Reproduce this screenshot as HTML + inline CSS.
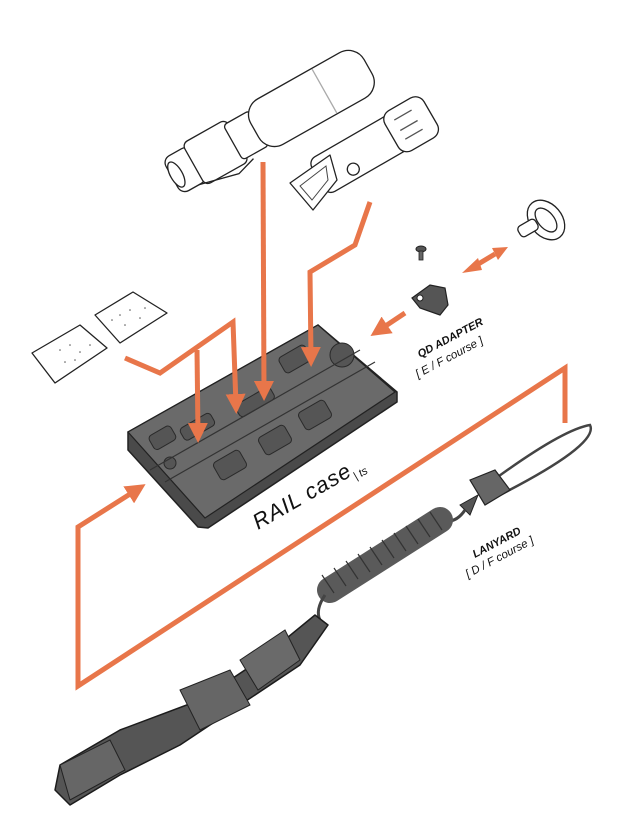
<!DOCTYPE html>
<html><head><meta charset="utf-8"><style>
html,body{margin:0;padding:0;background:#fff}
svg{display:block}
text{font-family:"Liberation Sans",sans-serif}
</style></head><body>
<svg width="640" height="824" viewBox="0 0 640 824" xmlns="http://www.w3.org/2000/svg">
<defs>
<marker id="ah" markerWidth="4" markerHeight="4" refX="2.2" refY="2" orient="auto" markerUnits="strokeWidth">
<path d="M0,0 L4,2 L0,4 z" fill="#e8764a"/></marker>
</defs>

<!-- flashlight -->
<g transform="translate(172,177) rotate(-29.4)" stroke="#222" stroke-width="1.3" fill="#fff">
<rect x="0" y="-20" width="30" height="40" rx="8"/>
<rect x="25" y="-24" width="50" height="48" rx="6"/>
<rect x="70" y="-20" width="30" height="40" rx="4"/>
<rect x="95" y="-26" width="130" height="52" rx="18"/>
<ellipse cx="5" cy="0" rx="6" ry="14" fill="#fff"/>
<path d="M20,20 L60,30 L80,24" fill="none"/>
<path d="M175,-25 L175,25" stroke="#aaa" fill="none"/>
</g>
<!-- second light -->
<g transform="translate(318,178) rotate(-30)" stroke="#222" stroke-width="1.3" fill="#fff">
<rect x="0" y="-20" width="115" height="40" rx="8"/>
<rect x="85" y="-23" width="45" height="46" rx="10"/>
<path d="M95,-12 L115,-12 M95,0 L115,0 M95,10 L115,10" stroke="#555" fill="none"/>
<circle cx="35" cy="10" r="6"/>
</g>
<path d="M290,183 L330,155 L337,180 L313,210 z" fill="#fff" stroke="#222" stroke-width="1.3" stroke-linejoin="round"/>
<path d="M300,186 L326,166 L328,180 L312,200 z" fill="none" stroke="#444" stroke-width="1"/>

<!-- pads -->
<g stroke="#222" stroke-width="1.3" fill="#fff" stroke-linejoin="round">
<path d="M32,353 L80,325 L107,348 L55,383 z"/>
<path d="M95,315 L133,292 L167,313 L120,343 z"/>
</g>
<g fill="#555">
<circle cx="60" cy="350" r="0.8"/><circle cx="70" cy="345" r="0.8"/><circle cx="80" cy="352" r="0.8"/><circle cx="90" cy="345" r="0.8"/><circle cx="65" cy="362" r="0.8"/><circle cx="75" cy="360" r="0.8"/>
<circle cx="120" cy="315" r="0.8"/><circle cx="130" cy="310" r="0.8"/><circle cx="140" cy="318" r="0.8"/><circle cx="125" cy="325" r="0.8"/><circle cx="145" cy="308" r="0.8"/><circle cx="112" cy="320" r="0.8"/>
</g>

<!-- rail case -->
<path d="M128,432 L318,325 L397,392 L397,402 L208,528 L198,527 L128,450 z" fill="#4a4a4a" stroke="#222" stroke-width="1.5"/>
<path d="M128,432 L318,325 L395,392 L205,518 z" fill="#6a6a6a" stroke="#222" stroke-width="1.2"/>
<g fill="#555" stroke="#2a2a2a" stroke-width="1">
<rect x="180" y="420" width="35" height="14" rx="4" transform="rotate(-30 197 427)"/>
<rect x="235" y="395" width="40" height="14" rx="4" transform="rotate(-30 255 402)"/>
<rect x="215" y="455" width="30" height="20" rx="4" transform="rotate(-30 230 465)"/>
<rect x="260" y="430" width="30" height="20" rx="4" transform="rotate(-30 275 440)"/>
<rect x="300" y="405" width="30" height="20" rx="4" transform="rotate(-30 315 415)"/>
<rect x="150" y="430" width="25" height="16" rx="4" transform="rotate(-30 162 438)"/>
<rect x="280" y="350" width="30" height="18" rx="4" transform="rotate(-30 295 359)"/>
<circle cx="170" cy="463" r="6"/>
<circle cx="342" cy="355" r="12"/>
</g>
<path d="M150,470 L360,350 M165,482 L375,362" stroke="#333" stroke-width="1.2"/>

<!-- QD adapter, screw, swivel -->
<path d="M412,298 L430,285 L445,288 L448,305 L440,315 L420,308 z" fill="#555" stroke="#222" stroke-width="1.2"/>
<circle cx="420" cy="298" r="3" fill="#fff" stroke="#222"/>
<ellipse cx="421" cy="249" rx="5" ry="3" fill="#555" stroke="#222"/>
<rect x="419" y="251" width="4" height="9" fill="#666" stroke="#222" stroke-width="0.8"/>
<g fill="#fff" stroke="#222" stroke-width="1.3">
<ellipse cx="546" cy="220" rx="16" ry="22" transform="rotate(-40 546 220)"/>
<ellipse cx="546" cy="220" rx="8" ry="14" transform="rotate(-40 546 220)"/>
<rect x="518" y="222" width="20" height="12" rx="4" transform="rotate(-30 528 228)"/>
</g>

<!-- lanyard -->
<path d="M480,490 Q560,430 590,425 Q600,445 490,500" fill="none" stroke="#444" stroke-width="2.5"/>
<path d="M470,480 L495,470 L510,490 L485,505 z" fill="#666" stroke="#222" stroke-width="1.2"/>
<path d="M460,505 L478,495 L470,515 z" fill="#555" stroke="#222"/>
<path d="M465,510 Q455,525 440,520" fill="none" stroke="#444" stroke-width="3"/>
<path d="M440,520 L330,590" stroke="#5a5a5a" stroke-width="26" stroke-linecap="round"/>
<g stroke="#333" stroke-width="1.2">
<path d="M430,512 l12,18 M418,519 l12,18 M406,526 l12,18 M394,533 l12,18 M382,540 l12,18 M370,547 l12,18 M358,554 l12,18 M346,561 l12,18 M334,568 l12,18 M322,575 l12,18"/>
</g>
<path d="M325,595 Q315,610 320,620" fill="none" stroke="#444" stroke-width="3"/>
<!-- strap -->
<path d="M55,790 L60,765 L120,730 L200,700 L260,660 L315,615 L328,625 L300,665 L240,705 L180,745 L120,775 L70,805 z" fill="#555" stroke="#1c1c1c" stroke-width="1.5" stroke-linejoin="round"/>
<path d="M60,765 L110,740 L125,770 L70,800 z" fill="#666" stroke="#222"/>
<path d="M180,690 L230,670 L250,705 L200,730 z" fill="#666" stroke="#222"/>
<path d="M240,660 L285,630 L300,660 L258,690 z" fill="#6a6a6a" stroke="#222"/>

<!-- orange connectors -->
<g fill="none" stroke="#e8764a" stroke-width="5" stroke-linejoin="miter">
<polyline points="125,358 160,373 233,322 236,405" marker-end="url(#ah)"/>
<polyline points="197,350 198,434" marker-end="url(#ah)"/>
<polyline points="263,162 264,392" marker-end="url(#ah)"/>
<polyline points="370,202 355,245 310,272 311,358" marker-end="url(#ah)"/>
<polyline points="405,313 378,331" marker-end="url(#ah)"/>
<polyline points="565,423 565,368 78,686 78,527 138,489" marker-end="url(#ah)"/>
<line x1="475" y1="266" x2="495" y2="254"/>
</g>
<path d="M462,273 L478,258 L482,270 z M508,247 L492,248 L498,260 z" fill="#e8764a"/>

<!-- labels -->
<g fill="#111">
<text transform="translate(420,358) rotate(-28)" font-size="11" font-weight="bold" font-style="italic">QD ADAPTER</text>
<text transform="translate(418,378) rotate(-28)" font-size="11.5" font-style="italic">[ E / F course ]</text>
<text transform="translate(258,530) rotate(-30)" font-size="22" font-style="italic" letter-spacing="1">RAIL case</text>
<text transform="translate(356,480) rotate(-30)" font-size="11" font-style="italic">| ts</text>
<text transform="translate(475,558) rotate(-28)" font-size="11" font-weight="bold" font-style="italic">LANYARD</text>
<text transform="translate(468,578) rotate(-28)" font-size="11.5" font-style="italic">[ D / F course ]</text>
</g>
</svg>
</body></html>
